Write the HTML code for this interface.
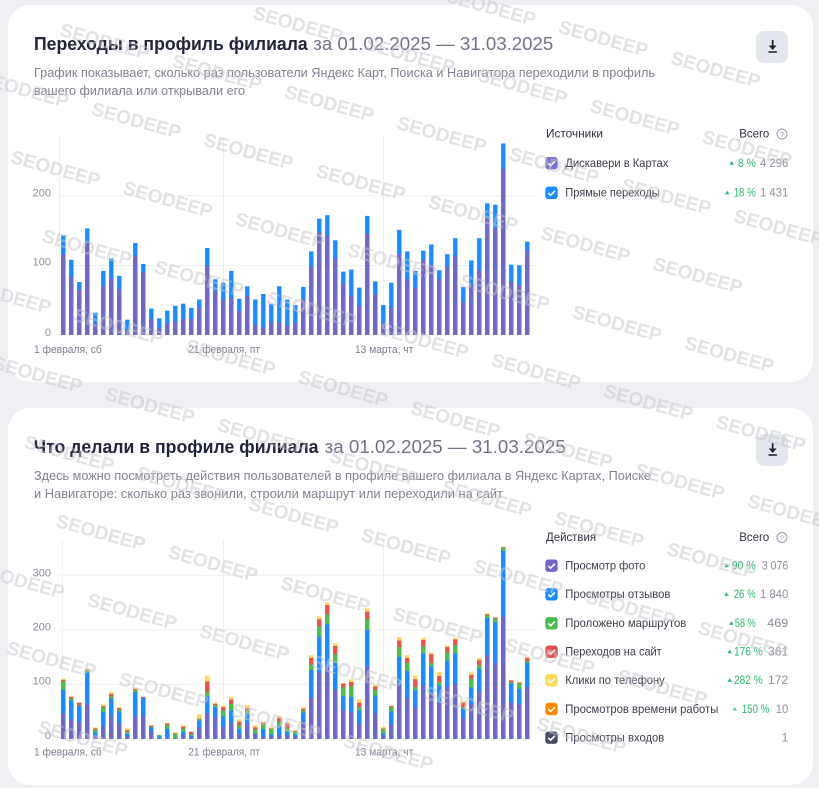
<!DOCTYPE html>
<html><head><meta charset="utf-8">
<style>
html,body{margin:0;padding:0;background:#eff0f4;width:819px;height:788px;overflow:hidden;}
svg{display:block;}
text{font-family:"Liberation Sans","DejaVu Sans",sans-serif;}
</style></head><body>
<svg xmlns="http://www.w3.org/2000/svg" width="819" height="788" viewBox="0 0 819 788" overflow="hidden">
<rect width="819" height="788" fill="#eff0f4"/>
<rect x="8" y="5" width="805" height="377" rx="22" fill="#ffffff"/>
<rect x="8" y="408" width="805" height="377" rx="22" fill="#ffffff"/>

<!-- ===== CARD 1 ===== -->
<text x="34" y="50" font-size="18.5" font-weight="700" fill="#22253a" textLength="273.7" lengthAdjust="spacingAndGlyphs">Переходы в профиль филиала</text>
<text x="313.3" y="50" font-size="18.5" fill="#6f7384" textLength="240" lengthAdjust="spacingAndGlyphs">за 01.02.2025 — 31.03.2025</text>
<text x="34" y="77" font-size="13" fill="#80838f" textLength="621" lengthAdjust="spacingAndGlyphs">График показывает, сколько раз пользователи Яндекс Карт, Поиска и Навигатора переходили в профиль</text>
<text x="34" y="95" font-size="13" fill="#80838f" textLength="211" lengthAdjust="spacingAndGlyphs">вашего филиала или открывали его</text>

<rect x="756" y="31" width="32" height="32" rx="8" fill="#e5e7ef"/>
<g fill="#22253a"><rect x="771.8" y="40" width="1.8" height="7"/><path d="M768.7 45.5 h7.9 l-3.95 4.5z"/><rect x="768.5" y="51.2" width="8.4" height="1.6"/></g>

<g stroke="#eef0f7" stroke-width="1">
<line x1="59" y1="195.7" x2="537" y2="195.7"/>
<line x1="59" y1="265.5" x2="537" y2="265.5"/>
<line x1="59.5" y1="137" x2="59.5" y2="335"/>
<line x1="223.5" y1="137" x2="223.5" y2="335"/>
<line x1="383.5" y1="137" x2="383.5" y2="335"/>
</g>
<g font-size="11" fill="#8b8e9a" text-anchor="end">
<text x="51" y="196.3">200</text>
<text x="51" y="265.6">100</text>
<text x="51" y="336">0</text>
</g>
<g font-size="11" fill="#7a7e8c">
<text x="34" y="353" textLength="67.7" lengthAdjust="spacingAndGlyphs">1 февраля, сб</text>
<text x="188.3" y="353" textLength="71.7" lengthAdjust="spacingAndGlyphs">21 февраля, пт</text>
<text x="355" y="353" textLength="58.3" lengthAdjust="spacingAndGlyphs">13 марта, чт</text>
</g>

<g transform="translate(61.1,335) scale(1,-0.6965)">
<g fill="#1b8cfd">
<rect x="0" width="4.4" height="143"/><rect x="8" width="4.4" height="108"/><rect x="16" width="4.4" height="76"/><rect x="24" width="4.4" height="153"/><rect x="32" width="4.4" height="32"/><rect x="40" width="4.4" height="92"/><rect x="48" width="4.4" height="110"/><rect x="56" width="4.4" height="85"/><rect x="64" width="4.4" height="22"/><rect x="72" width="4.4" height="132"/>
<rect x="80" width="4.4" height="102"/><rect x="88" width="4.4" height="38"/><rect x="96" width="4.4" height="24"/><rect x="104" width="4.4" height="35"/><rect x="112" width="4.4" height="42"/><rect x="120" width="4.4" height="45"/><rect x="128" width="4.4" height="39"/><rect x="136" width="4.4" height="51"/><rect x="144" width="4.4" height="125"/><rect x="152" width="4.4" height="80"/>
<rect x="160" width="4.4" height="75"/><rect x="168" width="4.4" height="92"/><rect x="176" width="4.4" height="52"/><rect x="184" width="4.4" height="70"/><rect x="192" width="4.4" height="51"/><rect x="200" width="4.4" height="59"/><rect x="208" width="4.4" height="45"/><rect x="216" width="4.4" height="70"/><rect x="224" width="4.4" height="51"/><rect x="232" width="4.4" height="43"/>
<rect x="240" width="4.4" height="69"/><rect x="248" width="4.4" height="120"/><rect x="256" width="4.4" height="167"/><rect x="264" width="4.4" height="172"/><rect x="272" width="4.4" height="136"/><rect x="280" width="4.4" height="91"/><rect x="288" width="4.4" height="94"/><rect x="296" width="4.4" height="68"/><rect x="304" width="4.4" height="171"/><rect x="312" width="4.4" height="77"/>
<rect x="320" width="4.4" height="43"/><rect x="328" width="4.4" height="75"/><rect x="336" width="4.4" height="151"/><rect x="344" width="4.4" height="120"/><rect x="352" width="4.4" height="92"/><rect x="360" width="4.4" height="121"/><rect x="368" width="4.4" height="130"/><rect x="376" width="4.4" height="93"/><rect x="384" width="4.4" height="116"/><rect x="392" width="4.4" height="139"/>
<rect x="400" width="4.4" height="69"/><rect x="408" width="4.4" height="107"/><rect x="416" width="4.4" height="139"/><rect x="424" width="4.4" height="189"/><rect x="432" width="4.4" height="187"/><rect x="440" width="4.4" height="275"/><rect x="448" width="4.4" height="101"/><rect x="456" width="4.4" height="100"/><rect x="464" width="4.4" height="134"/>
</g>
<g fill="#7068c5">
<rect x="0" width="4.4" height="116"/><rect x="8" width="4.4" height="84"/><rect x="16" width="4.4" height="65"/><rect x="24" width="4.4" height="133"/><rect x="32" width="4.4" height="16"/><rect x="40" width="4.4" height="71"/><rect x="48" width="4.4" height="81"/><rect x="56" width="4.4" height="66"/><rect x="64" width="4.4" height="7"/><rect x="72" width="4.4" height="114"/>
<rect x="80" width="4.4" height="90"/><rect x="88" width="4.4" height="23"/><rect x="96" width="4.4" height="9"/><rect x="104" width="4.4" height="16"/><rect x="112" width="4.4" height="19"/><rect x="120" width="4.4" height="23"/><rect x="128" width="4.4" height="23"/><rect x="136" width="4.4" height="39"/><rect x="144" width="4.4" height="100"/><rect x="152" width="4.4" height="63"/>
<rect x="160" width="4.4" height="51"/><rect x="168" width="4.4" height="53"/><rect x="176" width="4.4" height="35"/><rect x="184" width="4.4" height="56"/><rect x="192" width="4.4" height="15"/><rect x="200" width="4.4" height="11"/><rect x="208" width="4.4" height="19"/><rect x="216" width="4.4" height="19"/><rect x="224" width="4.4" height="14"/><rect x="232" width="4.4" height="17"/>
<rect x="240" width="4.4" height="51"/><rect x="248" width="4.4" height="98"/><rect x="256" width="4.4" height="147"/><rect x="264" width="4.4" height="143"/><rect x="272" width="4.4" height="110"/><rect x="280" width="4.4" height="74"/><rect x="288" width="4.4" height="57"/><rect x="296" width="4.4" height="42"/><rect x="304" width="4.4" height="145"/><rect x="312" width="4.4" height="59"/>
<rect x="320" width="4.4" height="17"/><rect x="328" width="4.4" height="39"/><rect x="336" width="4.4" height="116"/><rect x="344" width="4.4" height="80"/><rect x="352" width="4.4" height="68"/><rect x="360" width="4.4" height="108"/><rect x="368" width="4.4" height="101"/><rect x="376" width="4.4" height="80"/><rect x="384" width="4.4" height="98"/><rect x="392" width="4.4" height="113"/>
<rect x="400" width="4.4" height="48"/><rect x="408" width="4.4" height="72"/><rect x="416" width="4.4" height="94"/><rect x="424" width="4.4" height="167"/><rect x="432" width="4.4" height="153"/><rect x="440" width="4.4" height="239"/><rect x="448" width="4.4" height="77"/><rect x="456" width="4.4" height="72"/><rect x="464" width="4.4" height="121"/>
</g>
</g>

<!-- legend card 1 -->
<text x="546" y="137.5" font-size="12" fill="#2d3040" textLength="57" lengthAdjust="spacingAndGlyphs">Источники</text>
<text x="739.3" y="137.5" font-size="12" fill="#2d3040" textLength="30" lengthAdjust="spacingAndGlyphs">Всего</text>
<circle cx="782" cy="134" r="5" fill="none" stroke="#9a9dab" stroke-width="1"/>
<text x="782" y="136.8" font-size="7.5" text-anchor="middle" fill="#9a9dab">?</text>

<rect x="545.3" y="157" width="12.4" height="12.4" rx="3" fill="#7b70cf"/>
<path d="M548.3 163.4 l2.3 2.2 l4.3 -4.3" stroke="#fff" stroke-width="1.6" fill="none"/>
<text x="565.3" y="166.8" font-size="12" fill="#3a3d4a" textLength="103" lengthAdjust="spacingAndGlyphs">Дискавери в Картах</text>
<path d="M729.4 164.8 l2.3 -3.8 l2.3 3.8 z" fill="#2fbd6e"/>
<text x="755.7" y="166.8" text-anchor="end" font-size="12" fill="#2fbd6e" textLength="17.7" lengthAdjust="spacingAndGlyphs">8 %</text>
<text x="788.3" y="166.8" text-anchor="end" font-size="12" fill="#8c8f9b" textLength="28.3" lengthAdjust="spacingAndGlyphs">4 296</text>

<rect x="545.3" y="186.6" width="12.4" height="12.4" rx="3" fill="#1a8cff"/>
<path d="M548.3 193 l2.3 2.2 l4.3 -4.3" stroke="#fff" stroke-width="1.6" fill="none"/>
<text x="565.3" y="196.4" font-size="12" fill="#3a3d4a" textLength="94.4" lengthAdjust="spacingAndGlyphs">Прямые переходы</text>
<path d="M724.9 194.4 l2.3 -3.8 l2.3 3.8 z" fill="#2fbd6e"/>
<text x="755.7" y="196.4" text-anchor="end" font-size="12" fill="#2fbd6e" textLength="22" lengthAdjust="spacingAndGlyphs">18 %</text>
<text x="788.3" y="196.4" text-anchor="end" font-size="12" fill="#8c8f9b" textLength="28.3" lengthAdjust="spacingAndGlyphs">1 431</text>

<!-- ===== CARD 2 ===== -->
<text x="33.7" y="453" font-size="18.5" font-weight="700" fill="#22253a" textLength="284.8" lengthAdjust="spacingAndGlyphs">Что делали в профиле филиала</text>
<text x="324.7" y="453" font-size="18.5" fill="#6f7384" textLength="241" lengthAdjust="spacingAndGlyphs">за 01.02.2025 — 31.03.2025</text>
<text x="34" y="480" font-size="13" fill="#80838f" textLength="617" lengthAdjust="spacingAndGlyphs">Здесь можно посмотреть действия пользователей в профиле вашего филиала в Яндекс Картах, Поиске</text>
<text x="34" y="498" font-size="13" fill="#80838f" textLength="469" lengthAdjust="spacingAndGlyphs">и Навигаторе: сколько раз звонили, строили маршрут или переходили на сайт</text>

<rect x="756" y="434" width="32" height="32" rx="8" fill="#e5e7ef"/>
<g fill="#22253a"><rect x="771.8" y="443" width="1.8" height="7"/><path d="M768.7 448.5 h7.9 l-3.95 4.5z"/><rect x="768.5" y="454.2" width="8.4" height="1.6"/></g>

<g stroke="#eef0f7" stroke-width="1">
<line x1="59" y1="575.3" x2="537" y2="575.3"/>
<line x1="59" y1="630" x2="537" y2="630"/>
<line x1="59" y1="684.4" x2="537" y2="684.4"/>
<line x1="62.5" y1="540" x2="62.5" y2="739"/>
<line x1="223.5" y1="540" x2="223.5" y2="739"/>
<line x1="383.5" y1="540" x2="383.5" y2="739"/>
</g>
<g font-size="11" fill="#8b8e9a" text-anchor="end">
<text x="51" y="576.3">300</text>
<text x="51" y="630.6">200</text>
<text x="51" y="684.6">100</text>
<text x="51" y="739">0</text>
</g>
<g font-size="11" fill="#7a7e8c">
<text x="34" y="755.7" textLength="67.7" lengthAdjust="spacingAndGlyphs">1 февраля, сб</text>
<text x="188.3" y="755.7" textLength="71.7" lengthAdjust="spacingAndGlyphs">21 февраля, пт</text>
<text x="355" y="755.7" textLength="58.3" lengthAdjust="spacingAndGlyphs">13 марта, чт</text>
</g>

<g transform="translate(61.1,738.8) scale(1,-0.546)">
<g fill="#ffd75e">
<rect x="0" width="4.4" height="110"/><rect x="8" width="4.4" height="77"/><rect x="16" width="4.4" height="67"/><rect x="24" width="4.4" height="128"/><rect x="32" width="4.4" height="21"/><rect x="40" width="4.4" height="63"/><rect x="48" width="4.4" height="86"/><rect x="56" width="4.4" height="58"/><rect x="64" width="4.4" height="19"/><rect x="72" width="4.4" height="93"/>
<rect x="80" width="4.4" height="77"/><rect x="88" width="4.4" height="25"/><rect x="96" width="4.4" height="7"/><rect x="104" width="4.4" height="29"/><rect x="112" width="4.4" height="12"/><rect x="120" width="4.4" height="25"/><rect x="128" width="4.4" height="13"/><rect x="136" width="4.4" height="45"/><rect x="144" width="4.4" height="116"/><rect x="152" width="4.4" height="66"/>
<rect x="160" width="4.4" height="61"/><rect x="168" width="4.4" height="77"/><rect x="176" width="4.4" height="36"/><rect x="184" width="4.4" height="62"/><rect x="192" width="4.4" height="25"/><rect x="200" width="4.4" height="31"/><rect x="208" width="4.4" height="21"/><rect x="216" width="4.4" height="42"/><rect x="224" width="4.4" height="31"/><rect x="232" width="4.4" height="16"/>
<rect x="240" width="4.4" height="58"/><rect x="248" width="4.4" height="153"/><rect x="256" width="4.4" height="224"/><rect x="264" width="4.4" height="250"/><rect x="272" width="4.4" height="175"/><rect x="280" width="4.4" height="102"/><rect x="288" width="4.4" height="109"/><rect x="296" width="4.4" height="72"/><rect x="304" width="4.4" height="239"/><rect x="312" width="4.4" height="99"/>
<rect x="320" width="4.4" height="22"/><rect x="328" width="4.4" height="61"/><rect x="336" width="4.4" height="186"/><rect x="344" width="4.4" height="153"/><rect x="352" width="4.4" height="116"/><rect x="360" width="4.4" height="185"/><rect x="368" width="4.4" height="158"/><rect x="376" width="4.4" height="123"/><rect x="384" width="4.4" height="171"/><rect x="392" width="4.4" height="185"/>
<rect x="400" width="4.4" height="69"/><rect x="408" width="4.4" height="122"/><rect x="416" width="4.4" height="148"/><rect x="424" width="4.4" height="230"/><rect x="432" width="4.4" height="223"/><rect x="440" width="4.4" height="352"/><rect x="448" width="4.4" height="108"/><rect x="456" width="4.4" height="104"/><rect x="464" width="4.4" height="150"/>
</g>
<g fill="#e6544f">
<rect x="0" width="4.4" height="108"/><rect x="8" width="4.4" height="77"/><rect x="16" width="4.4" height="66"/><rect x="24" width="4.4" height="127"/><rect x="32" width="4.4" height="19"/><rect x="40" width="4.4" height="60"/><rect x="48" width="4.4" height="82"/><rect x="56" width="4.4" height="56"/><rect x="64" width="4.4" height="16"/><rect x="72" width="4.4" height="91"/>
<rect x="80" width="4.4" height="77"/><rect x="88" width="4.4" height="24"/><rect x="96" width="4.4" height="7"/><rect x="104" width="4.4" height="28"/><rect x="112" width="4.4" height="10"/><rect x="120" width="4.4" height="22"/><rect x="128" width="4.4" height="13"/><rect x="136" width="4.4" height="37"/><rect x="144" width="4.4" height="105"/><rect x="152" width="4.4" height="64"/>
<rect x="160" width="4.4" height="58"/><rect x="168" width="4.4" height="72"/><rect x="176" width="4.4" height="31"/><rect x="184" width="4.4" height="56"/><rect x="192" width="4.4" height="21"/><rect x="200" width="4.4" height="30"/><rect x="208" width="4.4" height="19"/><rect x="216" width="4.4" height="38"/><rect x="224" width="4.4" height="28"/><rect x="232" width="4.4" height="14"/>
<rect x="240" width="4.4" height="55"/><rect x="248" width="4.4" height="148"/><rect x="256" width="4.4" height="219"/><rect x="264" width="4.4" height="245"/><rect x="272" width="4.4" height="170"/><rect x="280" width="4.4" height="101"/><rect x="288" width="4.4" height="104"/><rect x="296" width="4.4" height="66"/><rect x="304" width="4.4" height="233"/><rect x="312" width="4.4" height="96"/>
<rect x="320" width="4.4" height="19"/><rect x="328" width="4.4" height="60"/><rect x="336" width="4.4" height="180"/><rect x="344" width="4.4" height="148"/><rect x="352" width="4.4" height="109"/><rect x="360" width="4.4" height="181"/><rect x="368" width="4.4" height="155"/><rect x="376" width="4.4" height="115"/><rect x="384" width="4.4" height="168"/><rect x="392" width="4.4" height="182"/>
<rect x="400" width="4.4" height="66"/><rect x="408" width="4.4" height="117"/><rect x="416" width="4.4" height="144"/><rect x="424" width="4.4" height="228"/><rect x="432" width="4.4" height="222"/><rect x="440" width="4.4" height="351"/><rect x="448" width="4.4" height="107"/><rect x="456" width="4.4" height="103"/><rect x="464" width="4.4" height="148"/>
</g>
<g fill="#4cbb50">
<rect x="0" width="4.4" height="105"/><rect x="8" width="4.4" height="74"/><rect x="16" width="4.4" height="61"/><rect x="24" width="4.4" height="125"/><rect x="32" width="4.4" height="17"/><rect x="40" width="4.4" height="58"/><rect x="48" width="4.4" height="77"/><rect x="56" width="4.4" height="53"/><rect x="64" width="4.4" height="13"/><rect x="72" width="4.4" height="89"/>
<rect x="80" width="4.4" height="75"/><rect x="88" width="4.4" height="22"/><rect x="96" width="4.4" height="7"/><rect x="104" width="4.4" height="25"/><rect x="112" width="4.4" height="9"/><rect x="120" width="4.4" height="19"/><rect x="128" width="4.4" height="8"/><rect x="136" width="4.4" height="36"/><rect x="144" width="4.4" height="85"/><rect x="152" width="4.4" height="62"/>
<rect x="160" width="4.4" height="52"/><rect x="168" width="4.4" height="64"/><rect x="176" width="4.4" height="25"/><rect x="184" width="4.4" height="52"/><rect x="192" width="4.4" height="17"/><rect x="200" width="4.4" height="26"/><rect x="208" width="4.4" height="18"/><rect x="216" width="4.4" height="32"/><rect x="224" width="4.4" height="19"/><rect x="232" width="4.4" height="13"/>
<rect x="240" width="4.4" height="52"/><rect x="248" width="4.4" height="136"/><rect x="256" width="4.4" height="206"/><rect x="264" width="4.4" height="228"/><rect x="272" width="4.4" height="155"/><rect x="280" width="4.4" height="94"/><rect x="288" width="4.4" height="96"/><rect x="296" width="4.4" height="58"/><rect x="304" width="4.4" height="219"/><rect x="312" width="4.4" height="90"/>
<rect x="320" width="4.4" height="18"/><rect x="328" width="4.4" height="58"/><rect x="336" width="4.4" height="168"/><rect x="344" width="4.4" height="139"/><rect x="352" width="4.4" height="95"/><rect x="360" width="4.4" height="169"/><rect x="368" width="4.4" height="139"/><rect x="376" width="4.4" height="104"/><rect x="384" width="4.4" height="158"/><rect x="392" width="4.4" height="171"/>
<rect x="400" width="4.4" height="58"/><rect x="408" width="4.4" height="109"/><rect x="416" width="4.4" height="135"/><rect x="424" width="4.4" height="226"/><rect x="432" width="4.4" height="220"/><rect x="440" width="4.4" height="350"/><rect x="448" width="4.4" height="104"/><rect x="456" width="4.4" height="101"/><rect x="464" width="4.4" height="142"/>
</g>
<g fill="#1a8cff">
<rect x="0" width="4.4" height="90"/><rect x="8" width="4.4" height="70"/><rect x="16" width="4.4" height="60"/><rect x="24" width="4.4" height="121"/><rect x="32" width="4.4" height="12"/><rect x="40" width="4.4" height="49"/><rect x="48" width="4.4" height="74"/><rect x="56" width="4.4" height="50"/><rect x="64" width="4.4" height="9"/><rect x="72" width="4.4" height="85"/>
<rect x="80" width="4.4" height="75"/><rect x="88" width="4.4" height="21"/><rect x="96" width="4.4" height="4"/><rect x="104" width="4.4" height="18"/><rect x="112" width="4.4" height="1"/><rect x="120" width="4.4" height="13"/><rect x="128" width="4.4" height="6"/><rect x="136" width="4.4" height="33"/><rect x="144" width="4.4" height="78"/><rect x="152" width="4.4" height="58"/>
<rect x="160" width="4.4" height="41"/><rect x="168" width="4.4" height="52"/><rect x="176" width="4.4" height="18"/><rect x="184" width="4.4" height="47"/><rect x="192" width="4.4" height="10"/><rect x="200" width="4.4" height="18"/><rect x="208" width="4.4" height="8"/><rect x="216" width="4.4" height="24"/><rect x="224" width="4.4" height="13"/><rect x="232" width="4.4" height="8"/>
<rect x="240" width="4.4" height="48"/><rect x="248" width="4.4" height="126"/><rect x="256" width="4.4" height="187"/><rect x="264" width="4.4" height="210"/><rect x="272" width="4.4" height="139"/><rect x="280" width="4.4" height="78"/><rect x="288" width="4.4" height="77"/><rect x="296" width="4.4" height="52"/><rect x="304" width="4.4" height="199"/><rect x="312" width="4.4" height="79"/>
<rect x="320" width="4.4" height="10"/><rect x="328" width="4.4" height="50"/><rect x="336" width="4.4" height="150"/><rect x="344" width="4.4" height="124"/><rect x="352" width="4.4" height="89"/><rect x="360" width="4.4" height="156"/><rect x="368" width="4.4" height="133"/><rect x="376" width="4.4" height="98"/><rect x="384" width="4.4" height="143"/><rect x="392" width="4.4" height="156"/>
<rect x="400" width="4.4" height="55"/><rect x="408" width="4.4" height="94"/><rect x="416" width="4.4" height="128"/><rect x="424" width="4.4" height="221"/><rect x="432" width="4.4" height="213"/><rect x="440" width="4.4" height="344"/><rect x="448" width="4.4" height="101"/><rect x="456" width="4.4" height="91"/><rect x="464" width="4.4" height="139"/>
</g>
<g fill="#6f67c4">
<rect x="0" width="4.4" height="46"/><rect x="8" width="4.4" height="36"/><rect x="16" width="4.4" height="31"/><rect x="24" width="4.4" height="64"/><rect x="32" width="4.4" height="5"/><rect x="40" width="4.4" height="24"/><rect x="48" width="4.4" height="42"/><rect x="56" width="4.4" height="29"/><rect x="64" width="4.4" height="5"/><rect x="72" width="4.4" height="42"/>
<rect x="80" width="4.4" height="43"/><rect x="88" width="4.4" height="13"/><rect x="96" width="4.4" height="1"/><rect x="104" width="4.4" height="3"/><rect x="112" width="4.4" height="1"/><rect x="120" width="4.4" height="7"/><rect x="128" width="4.4" height="3"/><rect x="136" width="4.4" height="21"/><rect x="144" width="4.4" height="47"/><rect x="152" width="4.4" height="39"/>
<rect x="160" width="4.4" height="23"/><rect x="168" width="4.4" height="29"/><rect x="176" width="4.4" height="9"/><rect x="184" width="4.4" height="28"/><rect x="192" width="4.4" height="9"/><rect x="200" width="4.4" height="4"/><rect x="208" width="4.4" height="4"/><rect x="216" width="4.4" height="7"/><rect x="224" width="4.4" height="7"/><rect x="232" width="4.4" height="4"/>
<rect x="240" width="4.4" height="32"/><rect x="248" width="4.4" height="75"/><rect x="256" width="4.4" height="121"/><rect x="264" width="4.4" height="130"/><rect x="272" width="4.4" height="91"/><rect x="280" width="4.4" height="53"/><rect x="288" width="4.4" height="49"/><rect x="296" width="4.4" height="28"/><rect x="304" width="4.4" height="132"/><rect x="312" width="4.4" height="47"/>
<rect x="320" width="4.4" height="7"/><rect x="328" width="4.4" height="26"/><rect x="336" width="4.4" height="99"/><rect x="344" width="4.4" height="75"/><rect x="352" width="4.4" height="58"/><rect x="360" width="4.4" height="98"/><rect x="368" width="4.4" height="84"/><rect x="376" width="4.4" height="67"/><rect x="384" width="4.4" height="96"/><rect x="392" width="4.4" height="101"/>
<rect x="400" width="4.4" height="39"/><rect x="408" width="4.4" height="64"/><rect x="416" width="4.4" height="87"/><rect x="424" width="4.4" height="153"/><rect x="432" width="4.4" height="139"/><rect x="440" width="4.4" height="224"/><rect x="448" width="4.4" height="67"/><rect x="456" width="4.4" height="63"/><rect x="464" width="4.4" height="95"/>
</g>
</g>

<!-- legend card 2 -->
<text x="546" y="541" font-size="12" fill="#2d3040" textLength="50" lengthAdjust="spacingAndGlyphs">Действия</text>
<text x="739.3" y="541" font-size="12" fill="#2d3040" textLength="30" lengthAdjust="spacingAndGlyphs">Всего</text>
<circle cx="782" cy="537.5" r="5" fill="none" stroke="#9a9dab" stroke-width="1"/>
<text x="782" y="540.3" font-size="7.5" text-anchor="middle" fill="#9a9dab">?</text>

<g font-size="12">
<rect x="545.3" y="559.5" width="12.4" height="12.4" rx="3" fill="#6f66c7"/>
<path d="M548.3 565.9 l2.3 2.2 l4.3 -4.3" stroke="#fff" stroke-width="1.6" fill="none"/>
<text x="565.3" y="569.5" fill="#3a3d4a" textLength="80" lengthAdjust="spacingAndGlyphs">Просмотр фото</text>
<path d="M724.2 567.3 l2.3 -3.8 l2.3 3.8 z" fill="#2fbd6e"/>
<text x="755.7" y="569.5" text-anchor="end" fill="#2fbd6e" textLength="24" lengthAdjust="spacingAndGlyphs">90 %</text>
<text x="788.3" y="569.5" text-anchor="end" fill="#8c8f9b" textLength="26.6" lengthAdjust="spacingAndGlyphs">3 076</text>

<rect x="545.3" y="588.1" width="12.4" height="12.4" rx="3" fill="#1a8cff"/>
<path d="M548.3 594.5 l2.3 2.2 l4.3 -4.3" stroke="#fff" stroke-width="1.6" fill="none"/>
<text x="565.3" y="598.1" fill="#3a3d4a" textLength="105" lengthAdjust="spacingAndGlyphs">Просмотры отзывов</text>
<path d="M724.2 595.9 l2.3 -3.8 l2.3 3.8 z" fill="#2fbd6e"/>
<text x="755.7" y="598.1" text-anchor="end" fill="#2fbd6e" textLength="22" lengthAdjust="spacingAndGlyphs">26 %</text>
<text x="788.3" y="598.1" text-anchor="end" fill="#8c8f9b" textLength="28.3" lengthAdjust="spacingAndGlyphs">1 840</text>

<rect x="545.3" y="617.1" width="12.4" height="12.4" rx="3" fill="#4cbb50"/>
<path d="M548.3 623.5 l2.3 2.2 l4.3 -4.3" stroke="#fff" stroke-width="1.6" fill="none"/>
<text x="565.3" y="627.1" fill="#3a3d4a" textLength="121" lengthAdjust="spacingAndGlyphs">Проложено маршрутов</text>
<path d="M729 624.9 l2.3 -3.8 l2.3 3.8 z" fill="#2fbd6e"/>
<text x="755.7" y="627.1" text-anchor="end" fill="#2fbd6e" textLength="21" lengthAdjust="spacingAndGlyphs">58 %</text>
<text x="788.3" y="627.1" text-anchor="end" fill="#8c8f9b" textLength="21" lengthAdjust="spacingAndGlyphs">469</text>

<rect x="545.3" y="645.5" width="12.4" height="12.4" rx="3" fill="#e5524d"/>
<path d="M548.3 651.9 l2.3 2.2 l4.3 -4.3" stroke="#fff" stroke-width="1.6" fill="none"/>
<text x="565.3" y="655.5" fill="#3a3d4a" textLength="96.4" lengthAdjust="spacingAndGlyphs">Переходов на сайт</text>
<path d="M727.4 653.3 l2.3 -3.8 l2.3 3.8 z" fill="#2fbd6e"/>
<text x="762.7" y="655.5" text-anchor="end" fill="#2fbd6e" textLength="28.7" lengthAdjust="spacingAndGlyphs">176 %</text>
<text x="788.3" y="655.5" text-anchor="end" fill="#8c8f9b" textLength="20.3" lengthAdjust="spacingAndGlyphs">361</text>

<rect x="545.3" y="674.1" width="12.4" height="12.4" rx="3" fill="#ffd95c"/>
<path d="M548.3 680.5 l2.3 2.2 l4.3 -4.3" stroke="#fff" stroke-width="1.6" fill="none"/>
<text x="565.3" y="684.1" fill="#3a3d4a" textLength="99.4" lengthAdjust="spacingAndGlyphs">Клики по телефону</text>
<path d="M727.4 681.9 l2.3 -3.8 l2.3 3.8 z" fill="#2fbd6e"/>
<text x="762.7" y="684.1" text-anchor="end" fill="#2fbd6e" textLength="28.7" lengthAdjust="spacingAndGlyphs">282 %</text>
<text x="788.3" y="684.1" text-anchor="end" fill="#8c8f9b" textLength="20.3" lengthAdjust="spacingAndGlyphs">172</text>

<rect x="545.3" y="702.8" width="12.4" height="12.4" rx="3" fill="#ff8a00"/>
<path d="M548.3 709.2 l2.3 2.2 l4.3 -4.3" stroke="#fff" stroke-width="1.6" fill="none"/>
<text x="565.3" y="712.8" fill="#3a3d4a" textLength="153" lengthAdjust="spacingAndGlyphs">Просмотров времени работы</text>
<path d="M732.5 710.6 l2.3 -3.8 l2.3 3.8 z" fill="#2fbd6e" opacity="0.7"/>
<text x="769.3" y="712.8" text-anchor="end" fill="#2fbd6e" textLength="27.6" lengthAdjust="spacingAndGlyphs">150 %</text>
<text x="788.3" y="712.8" text-anchor="end" fill="#8c8f9b" textLength="12.6" lengthAdjust="spacingAndGlyphs">10</text>

<rect x="545.3" y="731.5" width="12.4" height="12.4" rx="3" fill="#4a4e69"/>
<path d="M548.3 737.9 l2.3 2.2 l4.3 -4.3" stroke="#fff" stroke-width="1.6" fill="none"/>
<text x="565.3" y="741.5" fill="#3a3d4a" textLength="99" lengthAdjust="spacingAndGlyphs">Просмотры входов</text>
<text x="788.3" y="741.5" text-anchor="end" fill="#8c8f9b">1</text>
</g>

<!-- watermark -->
<g fill="#c6c6cc" fill-opacity="0.5" font-size="19" font-weight="700" text-anchor="middle">
<text transform="translate(491.2,7) rotate(15.5)" y="7">SEODEEP</text>
<text transform="translate(603.5,38) rotate(15.5)" y="7">SEODEEP</text>
<text transform="translate(715.8,69) rotate(15.5)" y="7">SEODEEP</text>
<text transform="translate(298.1,24) rotate(15.5)" y="7">SEODEEP</text>
<text transform="translate(410.4,55) rotate(15.5)" y="7">SEODEEP</text>
<text transform="translate(522.7,86) rotate(15.5)" y="7">SEODEEP</text>
<text transform="translate(635,117) rotate(15.5)" y="7">SEODEEP</text>
<text transform="translate(747.3,148) rotate(15.5)" y="7">SEODEEP</text>
<text transform="translate(105,41) rotate(15.5)" y="7">SEODEEP</text>
<text transform="translate(217.3,72) rotate(15.5)" y="7">SEODEEP</text>
<text transform="translate(329.6,103) rotate(15.5)" y="7">SEODEEP</text>
<text transform="translate(441.9,134) rotate(15.5)" y="7">SEODEEP</text>
<text transform="translate(554.2,165) rotate(15.5)" y="7">SEODEEP</text>
<text transform="translate(666.5,196) rotate(15.5)" y="7">SEODEEP</text>
<text transform="translate(778.8,227) rotate(15.5)" y="7">SEODEEP</text>
<text transform="translate(24.2,89) rotate(15.5)" y="7">SEODEEP</text>
<text transform="translate(136.5,120) rotate(15.5)" y="7">SEODEEP</text>
<text transform="translate(248.8,151) rotate(15.5)" y="7">SEODEEP</text>
<text transform="translate(361.1,182) rotate(15.5)" y="7">SEODEEP</text>
<text transform="translate(473.4,213) rotate(15.5)" y="7">SEODEEP</text>
<text transform="translate(585.7,244) rotate(15.5)" y="7">SEODEEP</text>
<text transform="translate(698,275) rotate(15.5)" y="7">SEODEEP</text>
<text transform="translate(55.7,168) rotate(15.5)" y="7">SEODEEP</text>
<text transform="translate(168,199) rotate(15.5)" y="7">SEODEEP</text>
<text transform="translate(280.3,230) rotate(15.5)" y="7">SEODEEP</text>
<text transform="translate(392.6,261) rotate(15.5)" y="7">SEODEEP</text>
<text transform="translate(504.9,292) rotate(15.5)" y="7">SEODEEP</text>
<text transform="translate(617.2,323) rotate(15.5)" y="7">SEODEEP</text>
<text transform="translate(729.5,354) rotate(15.5)" y="7">SEODEEP</text>
<text transform="translate(87.2,247) rotate(15.5)" y="7">SEODEEP</text>
<text transform="translate(199.5,278) rotate(15.5)" y="7">SEODEEP</text>
<text transform="translate(311.8,309) rotate(15.5)" y="7">SEODEEP</text>
<text transform="translate(424.1,340) rotate(15.5)" y="7">SEODEEP</text>
<text transform="translate(536.4,371) rotate(15.5)" y="7">SEODEEP</text>
<text transform="translate(648.7,402) rotate(15.5)" y="7">SEODEEP</text>
<text transform="translate(761,433) rotate(15.5)" y="7">SEODEEP</text>
<text transform="translate(6.4,295) rotate(15.5)" y="7">SEODEEP</text>
<text transform="translate(118.7,326) rotate(15.5)" y="7">SEODEEP</text>
<text transform="translate(231,357) rotate(15.5)" y="7">SEODEEP</text>
<text transform="translate(343.3,388) rotate(15.5)" y="7">SEODEEP</text>
<text transform="translate(455.6,419) rotate(15.5)" y="7">SEODEEP</text>
<text transform="translate(567.9,450) rotate(15.5)" y="7">SEODEEP</text>
<text transform="translate(680.2,481) rotate(15.5)" y="7">SEODEEP</text>
<text transform="translate(792.5,512) rotate(15.5)" y="7">SEODEEP</text>
<text transform="translate(37.9,374) rotate(15.5)" y="7">SEODEEP</text>
<text transform="translate(150.2,405) rotate(15.5)" y="7">SEODEEP</text>
<text transform="translate(262.5,436) rotate(15.5)" y="7">SEODEEP</text>
<text transform="translate(374.8,467) rotate(15.5)" y="7">SEODEEP</text>
<text transform="translate(487.1,498) rotate(15.5)" y="7">SEODEEP</text>
<text transform="translate(599.4,529) rotate(15.5)" y="7">SEODEEP</text>
<text transform="translate(711.7,560) rotate(15.5)" y="7">SEODEEP</text>
<text transform="translate(69.4,453) rotate(15.5)" y="7">SEODEEP</text>
<text transform="translate(181.7,484) rotate(15.5)" y="7">SEODEEP</text>
<text transform="translate(294,515) rotate(15.5)" y="7">SEODEEP</text>
<text transform="translate(406.3,546) rotate(15.5)" y="7">SEODEEP</text>
<text transform="translate(518.6,577) rotate(15.5)" y="7">SEODEEP</text>
<text transform="translate(630.9,608) rotate(15.5)" y="7">SEODEEP</text>
<text transform="translate(743.2,639) rotate(15.5)" y="7">SEODEEP</text>
<text transform="translate(100.9,532) rotate(15.5)" y="7">SEODEEP</text>
<text transform="translate(213.2,563) rotate(15.5)" y="7">SEODEEP</text>
<text transform="translate(325.5,594) rotate(15.5)" y="7">SEODEEP</text>
<text transform="translate(437.8,625) rotate(15.5)" y="7">SEODEEP</text>
<text transform="translate(550.1,656) rotate(15.5)" y="7">SEODEEP</text>
<text transform="translate(662.4,687) rotate(15.5)" y="7">SEODEEP</text>
<text transform="translate(20.1,580) rotate(15.5)" y="7">SEODEEP</text>
<text transform="translate(132.4,611) rotate(15.5)" y="7">SEODEEP</text>
<text transform="translate(244.7,642) rotate(15.5)" y="7">SEODEEP</text>
<text transform="translate(357,673) rotate(15.5)" y="7">SEODEEP</text>
<text transform="translate(469.3,704) rotate(15.5)" y="7">SEODEEP</text>
<text transform="translate(581.6,735) rotate(15.5)" y="7">SEODEEP</text>
<text transform="translate(51.6,659) rotate(15.5)" y="7">SEODEEP</text>
<text transform="translate(163.9,690) rotate(15.5)" y="7">SEODEEP</text>
<text transform="translate(276.2,721) rotate(15.5)" y="7">SEODEEP</text>
<text transform="translate(388.5,752) rotate(15.5)" y="7">SEODEEP</text>
<text transform="translate(83.1,738) rotate(15.5)" y="7">SEODEEP</text>
</g>
</svg>
</body></html>
